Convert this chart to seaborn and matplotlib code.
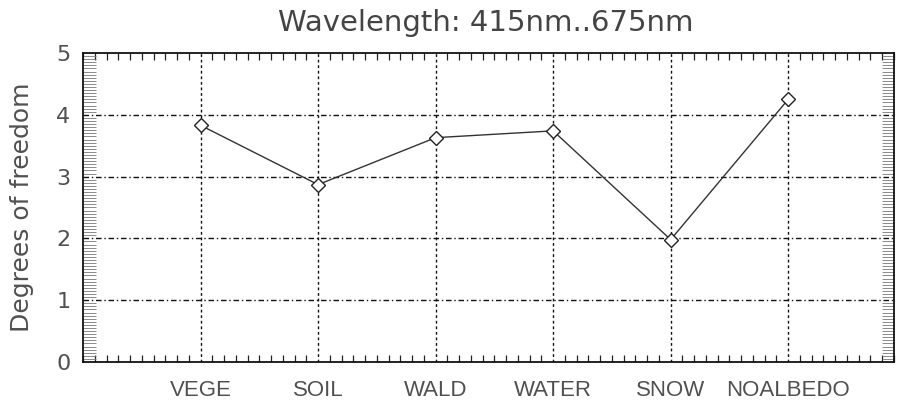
import numpy as np
import pandas as pd
import seaborn as sns
import matplotlib.pyplot as plt
from matplotlib.ticker import MultipleLocator

surfaces = ['VEGE', 'SOIL', 'WALD', 'WATER', 'SNOW', 'NOALBEDO']
dof = [3.83, 2.87, 3.63, 3.74, 1.98, 4.25]
title = 'Wavelength: 415nm..675nm'
ylabel = 'Degrees of freedom'

sns.set_theme(style='white')
plt.rcParams['font.family'] = ['DejaVu Sans']

df = pd.DataFrame({'surface': surfaces, 'dof': dof})
df['pos'] = np.arange(1, len(surfaces) + 1)

W, H = 898, 407
fig = plt.figure(figsize=(W / 100, H / 100), dpi=100)
ax = fig.add_axes([83 / W, 1 - 362 / H, (894 - 83) / W, (362 - 53) / H])

sns.lineplot(data=df, x='pos', y='dof', ax=ax, color='#333333', linewidth=1.0,
             marker='D', markersize=7, markerfacecolor='white',
             markeredgecolor='#222222', markeredgewidth=1.0, zorder=3)

ax.set_xlim(0, 6.9)
ax.set_ylim(0, 5)
ax.set_xticks(df['pos'])
ax.set_xticklabels(surfaces, fontfamily='Liberation Sans', fontsize=16)
ax.set_yticks(range(0, 6))
ax.xaxis.set_minor_locator(MultipleLocator(0.1))
ax.yaxis.set_minor_locator(MultipleLocator(0.05))

# IDL-style grid
for y in range(1, 5):
    ax.axhline(y, color='#111111', linewidth=1.0, linestyle=(0, (4, 2, 1, 2)), zorder=1)
for x in df['pos']:
    ax.axvline(x, color='#111111', linewidth=1.0, linestyle=(0, (2, 2)), zorder=1)

ax.tick_params(which='major', direction='in', length=0, top=False, right=False,
               labelcolor='#505050')
ax.tick_params(axis='x', which='major', pad=13)
ax.tick_params(axis='y', which='major', labelsize=16, pad=9)
ax.tick_params(which='minor', direction='in', length=5, width=0.9, color='#222222',
               top=True, right=True, bottom=True, left=True)
ax.tick_params(axis='y', which='minor', length=9, width=0.6, color='#777777')

for s in ax.spines.values():
    s.set_color('#111111')
    s.set_linewidth(1.3)

ax.set_xlabel('')
ax.set_ylabel(ylabel, fontsize=18, color='#505050', va='center')
ax.yaxis.set_label_coords(-61 / (894 - 83), 0.5)
fig.text(486 / W, 1 - 23 / H, title, fontsize=21, color='#444444',
         ha='center', va='center')

fig.savefig('out.png', dpi=100)
